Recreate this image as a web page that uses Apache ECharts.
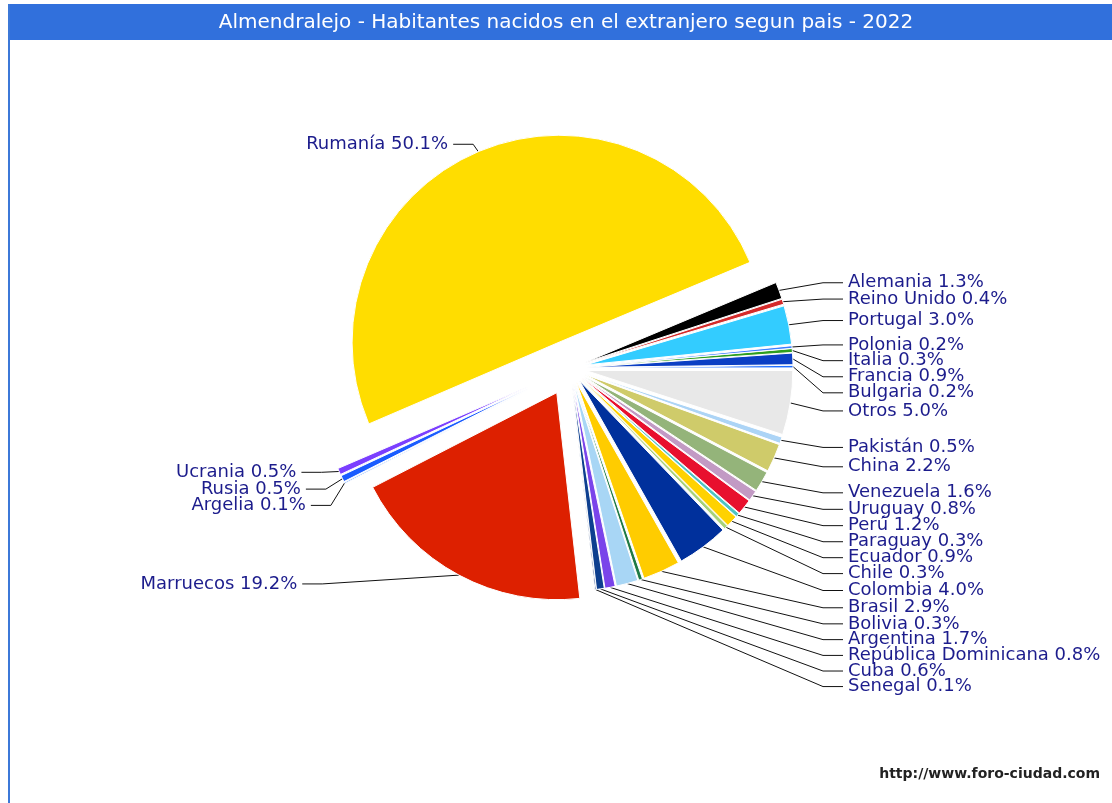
<!DOCTYPE html>
<html>
<head>
<meta charset="utf-8">
<script src="https://cdn.jsdelivr.net/npm/echarts@6/dist/echarts.min.js"></script>
<style>
  html, body { margin: 0; padding: 0; background: #fff; }
  #pieChart { width: 1112px; height: 803px; }
</style>
</head>
<body>
<div id="pieChart"></div>
<script>
// datos: porcentaje de habitantes nacidos en el extranjero (orden antihorario desde las 3)
const paises = ["Bulgaria", "Francia", "Italia", "Polonia", "Portugal", "Reino Unido", "Alemania",
  "Rumanía", "Ucrania", "Rusia", "Argelia", "Marruecos", "Senegal", "Cuba", "República Dominicana",
  "Argentina", "Bolivia", "Brasil", "Colombia", "Chile", "Ecuador", "Paraguay", "Perú", "Uruguay",
  "Venezuela", "China", "Pakistán", "Otros"];
const porcentajes = [0.2, 0.9, 0.3, 0.2, 3.0, 0.4, 1.3,
  50.1, 0.5, 0.5, 0.1, 19.2, 0.1, 0.6, 0.8,
  1.7, 0.3, 2.9, 4.0, 0.3, 0.9, 0.3, 1.2, 0.8,
  1.6, 2.2, 0.5, 5.0];
const titulo = "Almendralejo - Habitantes nacidos en el extranjero segun pais - 2022";

const colores = ["#1f6fff", "#0b3fc4", "#2e9e1e", "#3d7eff", "#33ccff", "#d42a2a", "#000000",
  "#ffdd00", "#7b3fff", "#1a5cff", "#5f9cff", "#dd2000", "#0a2f7a", "#0d3f8f", "#7a44ea",
  "#a8d6f5", "#1f7a45", "#ffcc00", "#00309c", "#a6d27a", "#ffd200", "#4ec3c3", "#e8102e", "#c29ac4",
  "#94b47a", "#cfcb6a", "#acd4f6", "#e8e8e8"];

// porciones separadas del centro (grupo -> desplazamiento)
const separacion = { normal: 16, medio: 28, lejos: 46 };
const grupoDe = { "Rumanía": "medio", "Marruecos": "medio", "Ucrania": "lejos", "Rusia": "lejos", "Argelia": "lejos" };
// etiquetas de la izquierda: [length, length2]
const lineasIzq = { "Rumanía": [8, 22], "Marruecos": [10, 152], "Ucrania": [2, 32], "Rusia": [2, 32], "Argelia": [2, 32] };
const anchoCaja = 256;

const textoEtiqueta = {
  color: "#1c1c8c",
  fontFamily: "DejaVu Sans",
  fontSize: 18,
  lineHeight: 15
};

const etiqueta = p => p.name + " " + p.value.toFixed(1) + "%";

// la etiqueta se mueve con la porcion separada; se compensa en el ancho de la caja
const total = porcentajes.reduce((a, b) => a + b, 0);
let acum = 0;
const angMedio = porcentajes.map(v => {
  const m = (acum + v / 2) / total * 2 * Math.PI;
  acum += v;
  return m;
});

// tramo horizontal corto junto al texto, el resto en diagonal
function lineaCorta(params) {
  const pts = params.labelLinePoints;
  if (!pts) return {};
  const dir = pts[2][0] > pts[0][0] ? 1 : -1;
  pts[1][0] = pts[2][0] - dir * 20;
  return { labelLinePoints: pts };
}

function serie(grupo) {
  const derecha = grupo === "normal";
  return {
    type: "pie",
    center: [570, 368],
    radius: 207,
    startAngle: 0,
    clockwise: false,
    selectedMode: "multiple",
    selectedOffset: separacion[grupo],
    silent: true,
    avoidLabelOverlap: true,
    itemStyle: { borderColor: "#fff", borderWidth: 1 },
    label: derecha ? {
      show: true,
      position: "outside",
      alignTo: "edge",
      edgeDistance: 8,
      distanceToLabelLine: 5,
      minMargin: -2.5,
      textMargin: -2.5,
      formatter: p => "{t|" + etiqueta(p) + "}"
    } : {
      show: true,
      position: "outside",
      alignTo: "none",
      distanceToLabelLine: 5,
      minMargin: -2.5,
      textMargin: -2.5,
      formatter: etiqueta,
      ...textoEtiqueta
    },
    labelLine: {
      show: true,
      length: 22,
      length2: 8,
      smooth: false,
      lineStyle: { color: "#111", width: 1 }
    },
    labelLayout: lineaCorta,
    data: paises.map((nombre, i) => {
      const propio = (grupoDe[nombre] || "normal") === grupo;
      const item = {
        name: nombre,
        value: porcentajes[i],
        selected: propio,
        itemStyle: propio ? { color: colores[i] } : { color: "rgba(0,0,0,0)", borderWidth: 0 },
        label: { show: propio },
        labelLine: { show: propio }
      };
      if (propio && derecha) {
        const ancho = anchoCaja + separacion.normal * Math.cos(angMedio[i]);
        item.label.rich = { t: { ...textoEtiqueta, width: ancho, height: 15, align: "left" } };
      }
      if (propio && lineasIzq[nombre]) {
        item.labelLine.length = lineasIzq[nombre][0];
        item.labelLine.length2 = lineasIzq[nombre][1];
      }
      return item;
    })
  };
}

let myChart = echarts.init(document.getElementById("pieChart"));
let option = {
  animation: false,
  backgroundColor: "#fff",
  title: {
    text: titulo,
    left: 561,
    textAlign: "center",
    top: 8,
    textStyle: { color: "#fff", fontSize: 20, fontWeight: "normal", fontFamily: "DejaVu Sans" }
  },
  graphic: [
    { type: "rect", z: -1, shape: { x: 8, y: 4, width: 1104, height: 36 }, style: { fill: "#3170dc" } },
    { type: "rect", z: -1, shape: { x: 8, y: 4, width: 2, height: 799 }, style: { fill: "#3c78d8" } },
    {
      type: "text", right: 12, top: 767,
      style: { text: "http://www.foro-ciudad.com", font: "bold 14px DejaVu Sans", fill: "#222" }
    }
  ],
  series: [serie("normal"), serie("medio"), serie("lejos")]
};
myChart.setOption(option);
</script>
</body>
</html>
